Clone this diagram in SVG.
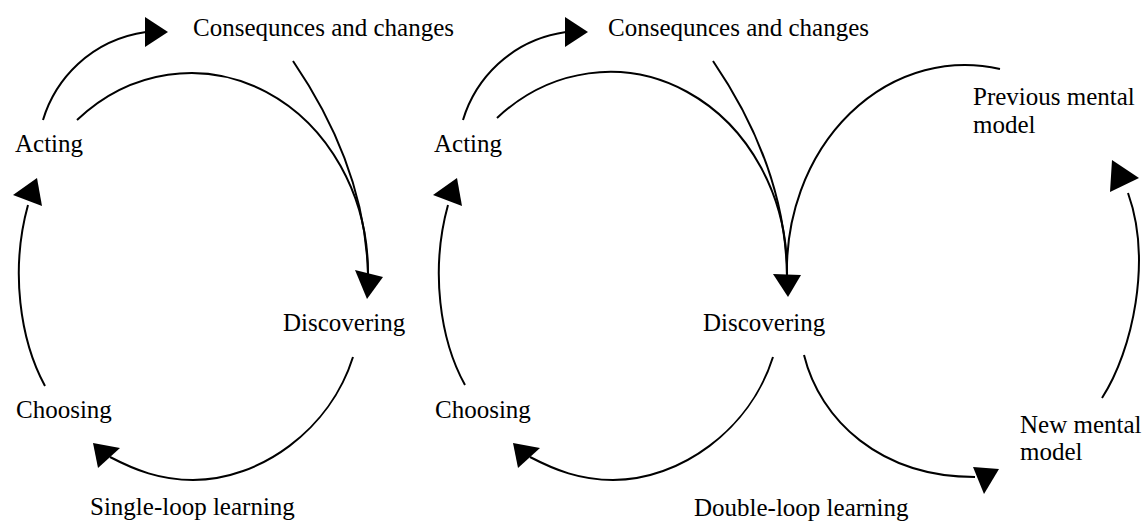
<svg xmlns="http://www.w3.org/2000/svg" width="1147" height="523" viewBox="0 0 1147 523">
<style>
  .lbl { font-family: "Liberation Serif", "Times New Roman", serif; font-size: 25px; fill: #000; }
  .ln { fill: none; stroke: #000; stroke-width: 2; }
  .ah { fill: #000; stroke: none; }
</style>
<rect width="1147" height="523" fill="#fff"/>
<g id="connectors">
  <!-- Single-loop -->
  <path class="ln" d="M43,120 C55,80 90,40 146,32"/>
  <polygon class="ah" points="145,17 168,32 145,47"/>
  <path class="ln" d="M77,120 A177,200 0 0 1 368,274"/>
  <path class="ln" d="M293,61 C340,130 366,200 368,274"/>
  <polygon class="ah" points="355,270 383,277 367,299"/>
  <path class="ln" d="M353,357 C330,430 260,480 193,480 C160,480 135,470 110,457"/>
  <polygon class="ah" points="93,443 120,448 98,468"/>
  <path class="ln" d="M45,386 C20,340 10,270 28,205"/>
  <polygon class="ah" points="37,178 42,206 13,195"/>
  <!-- Double-loop -->
  <path class="ln" d="M463,120 C475,80 510,40 566,32"/>
  <polygon class="ah" points="565,17 588,32 565,47"/>
  <path class="ln" d="M497,118 A177,200 0 0 1 787,276"/>
  <path class="ln" d="M713,61 C760,130 786,200 787,276"/>
  <path class="ln" d="M1000,69 A178,205 0 0 0 787,276"/>
  <polygon class="ah" points="773,274 801,275 788,297"/>
  <path class="ln" d="M773,357 C750,430 680,480 613,480 C580,480 555,470 530,457"/>
  <polygon class="ah" points="513,443 540,448 518,468"/>
  <path class="ln" d="M465,385 C440,340 430,270 448,205"/>
  <polygon class="ah" points="457,178 462,206 433,195"/>
  <path class="ln" d="M804,355 C820,420 880,477 975,477"/>
  <polygon class="ah" points="973,467 999,469 984,494"/>
  <path class="ln" d="M1102,398 C1133,350 1152,260 1128,193"/>
  <polygon class="ah" points="1112,160 1139,178 1110,192"/>
</g>
<g id="single-consequences"><text class="lbl" x="193" y="36">Consequnces and changes</text></g>
<g id="single-acting"><text class="lbl" x="15" y="152">Acting</text></g>
<g id="single-discovering"><text class="lbl" x="283" y="331">Discovering</text></g>
<g id="single-choosing"><text class="lbl" x="16" y="418">Choosing</text></g>
<g id="single-title"><text class="lbl" x="90" y="515">Single-loop learning</text></g>
<g id="double-consequences"><text class="lbl" x="608" y="36">Consequnces and changes</text></g>
<g id="double-acting"><text class="lbl" x="434" y="152">Acting</text></g>
<g id="double-discovering"><text class="lbl" x="703" y="331">Discovering</text></g>
<g id="double-choosing"><text class="lbl" x="435" y="418">Choosing</text></g>
<g id="previous-model"><text class="lbl" x="973" y="105">Previous mental</text><text class="lbl" x="973" y="133">model</text></g>
<g id="new-model"><text class="lbl" x="1020" y="433">New mental</text><text class="lbl" x="1020" y="460">model</text></g>
<g id="double-title"><text class="lbl" x="694" y="516">Double-loop learning</text></g>
</svg>
